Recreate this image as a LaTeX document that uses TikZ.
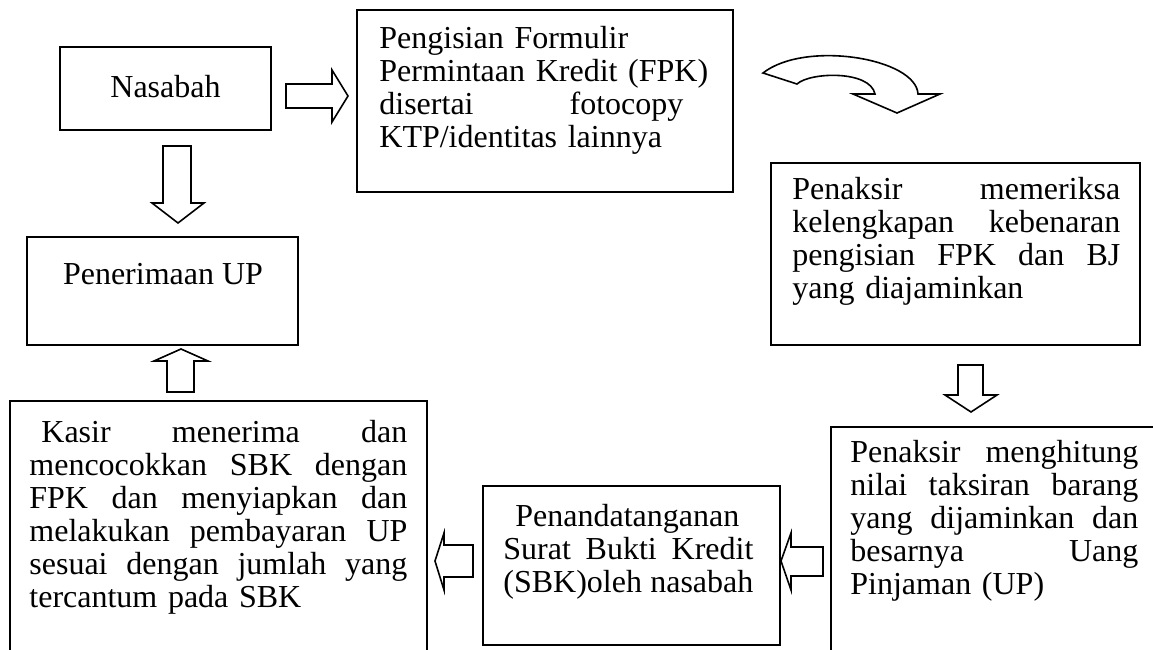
\documentclass[tikz,border=0pt]{standalone}
\usepackage{fontspec}
\setmainfont{Liberation Serif}
\newcommand\jline[2]{\leavevmode\hbox to #1{#2}}
\begin{document}
\begin{tikzpicture}[x=0.5pt,y=-0.5pt,
  box/.style={draw, line width=0.8pt, rectangle, inner sep=0pt},
  txt/.style={inner sep=0pt, anchor=base west, font=\fontsize{16}{16.5}\selectfont},
  ctxt/.style={inner sep=0pt, anchor=base, font=\fontsize{16}{16.5}\selectfont},
  blk/.style={draw, line width=0.8pt, fill=white, line join=miter},
]
\useasboundingbox (0,0) rectangle (1153,649);
\clip (0,0) rectangle (1153,649);
\fill[white] (0,0) rectangle (1153,649);
% boxes
\node[box, minimum width=105.5pt, minimum height=41.5pt] (nasabah) at (165.5,88.5) {};
\node[box, minimum width=188pt, minimum height=91pt] (fpk) at (545,101) {};
\node[box, minimum width=184.5pt, minimum height=91pt] (periksa) at (955.5,254) {};
\node[box, minimum width=135.5pt, minimum height=54pt] (terima) at (162.5,291) {};
\node[box, minimum width=208.5pt, minimum height=159.5pt] (kasir) at (218.5,560.5) {};
\node[box, minimum width=148.5pt, minimum height=79.5pt] (sbk) at (631.5,565.5) {};
\node[box, minimum width=209.5pt, minimum height=146.5pt] (hitung) at (1040.5,573.5) {};
% texts
\node[ctxt] (nasabah-t) at (165.5,97) {Nasabah};
\node[txt, text width=164pt] (fpk-t) at (379,48) {Pengisian Formulir\\
\mbox{Permintaan Kredit (FPK)}\\
\jline{152pt}{disertai\hfill fotocopy}\\
KTP/identitas lainnya};
\node[txt, text width=164pt] (periksa-t) at (792,199) {\jline{164pt}{Penaksir\hfill memeriksa}\\
\jline{164pt}{kelengkapan\hfill kebenaran}\\
\jline{164pt}{pengisian\hfill FPK\hfill dan\hfill BJ}\\
yang diajaminkan};
\node[ctxt] (terima-t) at (163,284) {Penerimaan UP};
\node[txt, text width=189pt] (kasir-t) at (29,442) {\jline{189pt}{\hspace*{6pt}Kasir\hfill menerima\hfill dan}\\
\jline{189pt}{mencocokkan\hfill SBK\hfill dengan}\\
\jline{189pt}{FPK\hfill dan\hfill menyiapkan\hfill dan}\\
\jline{189pt}{melakukan\hfill pembayaran\hfill UP}\\
\jline{189pt}{sesuai\hfill dengan\hfill jumlah\hfill yang}\\
tercantum pada SBK};
\node[txt, text width=126pt] (sbk-t) at (503,526) {\hspace*{6pt}Penandatanganan\\
\jline{125pt}{Surat\hfill Bukti\hfill Kredit}\\
\jline{125pt}{(SBK)oleh\hfill nasabah}};
\node[txt, text width=144pt] (hitung-t) at (850,462) {\jline{144pt}{Penaksir\hfill menghitung}\\
\jline{144pt}{nilai\hfill taksiran\hfill barang}\\
\jline{144pt}{yang\hfill dijaminkan\hfill dan}\\
\jline{144pt}{besarnya\hfill Uang}\\
Pinjaman (UP)};
% block arrows
\draw[blk] (286,84) -- (332,84) -- (332,70) -- (348,96) -- (332,122) -- (332,108) -- (286,108) -- cycle;
\draw[blk] (163,146) -- (191,146) -- (191,203) -- (204,203) -- (178,223) -- (152,203) -- (163,203) -- cycle;
\draw[blk] (167,392) -- (167,361) -- (154,361) -- (181,349) -- (208,361) -- (194,361) -- (194,392) -- cycle;
\draw[blk] (958,365) -- (983,365) -- (983,395) -- (997,395) -- (971,412) -- (945,395) -- (958,395) -- cycle;
\draw[blk] (473,545) -- (444,545) -- (444,533) -- (435,561) -- (444,590) -- (444,577) -- (473,577) -- cycle;
\draw[blk] (823,547) -- (791,547) -- (791,533) -- (781,561) -- (791,590) -- (791,576) -- (823,576) -- cycle;
% curved arrow
\draw[blk]
  (763,73) -- (797,84) .. controls (810,72) and (870,70) .. (875,94)
  -- (853,94) -- (897,113) -- (940,94) -- (918,94)
  .. controls (916,58) and (805,40) .. cycle;
\end{tikzpicture}
\end{document}
